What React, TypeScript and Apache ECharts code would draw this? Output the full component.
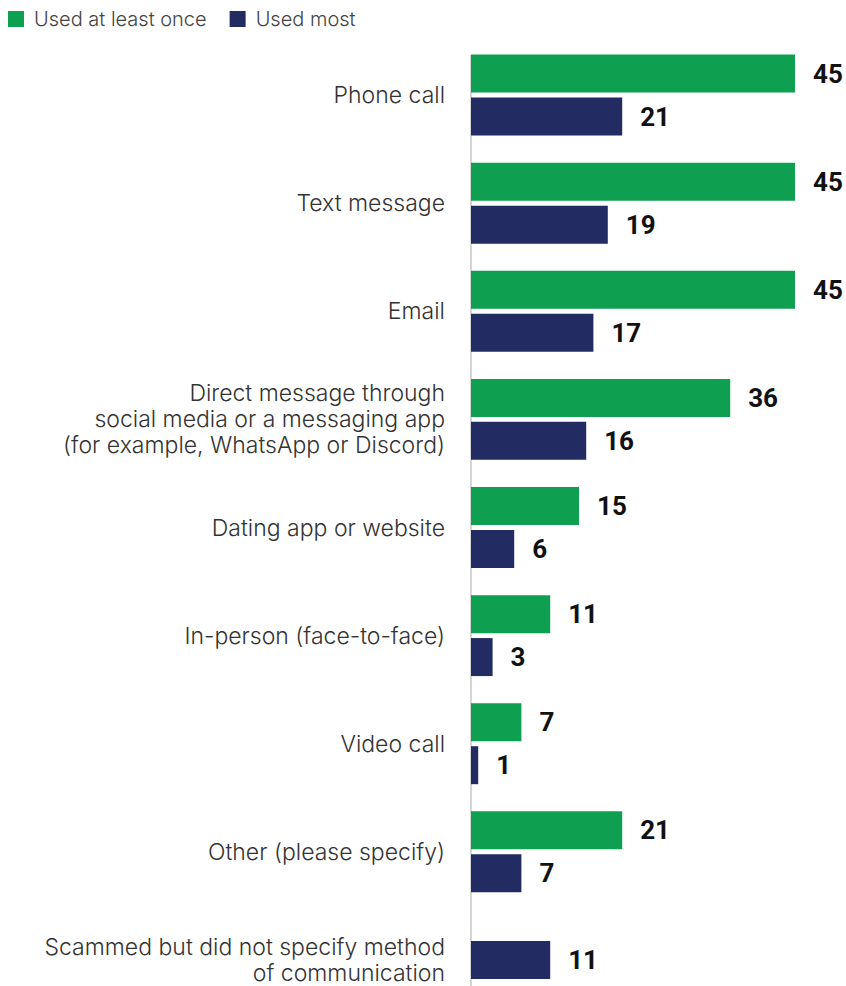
import React, { useEffect, useRef } from "react";
import * as echarts from "echarts";

const categories = [
  "Phone call",
  "Text message",
  "Email",
  "Direct message through\nsocial media or a messaging app\n(for example, WhatsApp or Discord)",
  "Dating app or website",
  "In-person (face-to-face)",
  "Video call",
  "Other (please specify)",
  "Scammed but did not specify method\nof communication",
];
const usedAtLeastOnce = [45, 45, 45, 36, 15, 11, 7, 21, null];
const usedMost = [21, 19, 17, 16, 6, 3, 1, 7, null];
const usedMostUnspecified = [null, null, null, null, null, null, null, null, 11];

const GREEN = "#0E9F50";
const NAVY = "#222B62";
const FONT = "Inter, 'Noto Sans', sans-serif";

export default function App() {
  const ref = useRef<HTMLDivElement>(null);
  useEffect(() => {
    if (!ref.current) return;
    const chart = echarts.init(ref.current, undefined, { renderer: "svg" });
    const valueLabel = {
      show: true,
      position: "right",
      distance: 18,
      fontSize: 26,
      fontWeight: "bold",
      color: "#111",
      fontFamily: "Roboto, 'Liberation Sans', sans-serif",
    };
    chart.setOption({
      animation: false,
      textStyle: { fontFamily: FONT },
      legend: {
        left: 8,
        top: 9,
        padding: 0,
        itemWidth: 16,
        itemHeight: 16,
        itemGap: 23,
        icon: "rect",
        data: ["Used at least once", "Used most"],
        textStyle: {
          fontSize: 20,
          fontWeight: 300,
          color: "#444",
          fontFamily: FONT,
          padding: [0, 0, 0, 5],
        },
      },
      grid: { left: 471, right: 51, top: 41, bottom: 0, containLabel: false },
      xAxis: { type: "value", min: 0, max: 45, show: false },
      yAxis: [
        {
          type: "category",
          inverse: true,
          data: categories,
          axisLine: { show: false },
          axisTick: { show: false },
          axisLabel: {
            margin: 26,
            fontSize: 23,
            fontWeight: 300,
            lineHeight: 26,
            color: "#333",
            align: "right",
            fontFamily: FONT,
          },
        },
        {
          type: "category",
          inverse: true,
          data: categories,
          show: false,
        },
      ],
      graphic: [
        {
          type: "line",
          shape: { x1: 471, y1: 55, x2: 471, y2: 1015 },
          style: { stroke: "#aaaaaa", lineWidth: 1 },
          silent: true,
        },
      ],
      series: [
        {
          name: "Used at least once",
          type: "bar",
          data: usedAtLeastOnce,
          barWidth: 38,
          barGap: "13%",
          itemStyle: { color: GREEN },
          label: valueLabel,
        },
        {
          name: "Used most",
          type: "bar",
          data: usedMost,
          barWidth: 38,
          barGap: "13%",
          itemStyle: { color: NAVY },
          label: valueLabel,
        },
        {
          name: "Used most",
          type: "bar",
          yAxisIndex: 1,
          data: usedMostUnspecified,
          barWidth: 38,
          itemStyle: { color: NAVY },
          label: valueLabel,
        },
      ],
    });
    return () => chart.dispose();
  }, []);
  return (
    <div
      style={{ position: "fixed", left: 0, top: 0, width: 846, height: 986, overflow: "hidden", background: "#fff" }}
    >
      <div ref={ref} style={{ width: 846, height: 1013.5 }} />
    </div>
  );
}
